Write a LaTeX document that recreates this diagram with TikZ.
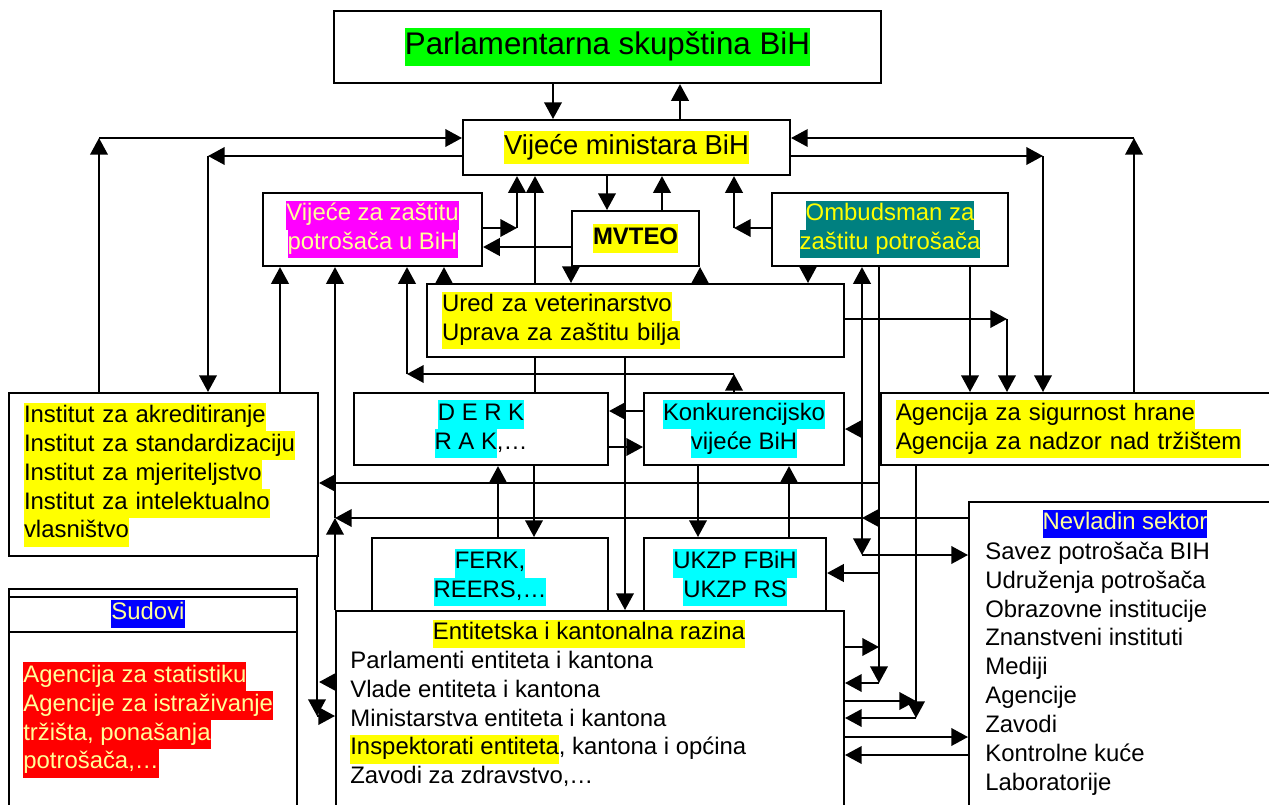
\documentclass[tikz,border=0pt]{standalone}
\usepackage{fontspec}
\setmainfont{Liberation Sans}
\usetikzlibrary{arrows.meta}

\definecolor{hlyellow}{HTML}{FFFF00}
\definecolor{hlgreen}{HTML}{00FF00}
\definecolor{hlmagenta}{HTML}{FF00FF}
\definecolor{hlteal}{HTML}{008080}
\definecolor{hlcyan}{HTML}{00FFFF}
\definecolor{hlblue}{HTML}{0000FF}
\definecolor{hlred}{HTML}{FF0000}
\definecolor{paleyellow}{HTML}{FFFF99}

% highlighted text: [text colour]{background}{text}
\newcommand{\marker}[3][black]{{\setlength{\fboxsep}{0pt}\colorbox{#2}{\color{#1}\strut #3}}}

\begin{document}
\begin{tikzpicture}[
		x=0.02cm, y=-0.02cm,
		% Define styles for nodes
		every node/.style={font=\fontsize{13.6}{16.4}\selectfont},
		box/.style={draw, line width=1.2pt, fill=white, rectangle, inner sep=0pt, anchor=north west},
		txt/.style={inner sep=0pt, align=left},
		arr/.style={draw, line width=1.1pt, -{Triangle[length=9.5pt,width=10pt]}},
		both/.style={arr, {Triangle[length=9.5pt,width=10pt]}-{Triangle[length=9.5pt,width=10pt]}},
		ln/.style={draw, line width=1.1pt}
	]
	\useasboundingbox (0,0) rectangle (1269,805);

	% State level
	\node[box, minimum width=10.94cm, minimum height=1.44cm] (parl) at (333,10)
		{\fontsize{17.8}{21.4}\selectfont\marker{hlgreen}{Parlamentarna skupština BiH}};
	\node[box, minimum width=6.54cm, minimum height=1.10cm] (vmin) at (462,119)
		{\fontsize{15.6}{18.7}\selectfont\marker{hlyellow}{Vijeće ministara BiH}};

	% Second row
	\node[box, minimum width=4.38cm, minimum height=1.46cm, align=center] (vzz) at (262,192)
		{\marker[paleyellow]{hlmagenta}{Vijeće za zaštitu}\\\marker[paleyellow]{hlmagenta}{potrošača u BiH}};
	\node[box, minimum width=2.54cm, minimum height=1.10cm] (mvteo) at (571,210)
		{\bfseries\marker{hlyellow}{MVTEO}};
	\node[box, minimum width=4.72cm, minimum height=1.46cm, align=center] (ombud) at (771,192)
		{\marker[hlyellow]{hlteal}{Ombudsman za}\\\marker[hlyellow]{hlteal}{zaštitu potrošača}};
	\node[box, minimum width=8.34cm, minimum height=1.46cm, text width=7.74cm, align=left] (ured) at (426,283)
		{\marker{hlyellow}{Ured za veterinarstvo}\\\marker{hlyellow}{Uprava za zaštitu bilja}};

	% Institutes, agencies, regulators
	\node[box, minimum width=6.18cm, minimum height=3.26cm, text width=5.58cm, align=left] (inst) at (8,392)
		{\marker{hlyellow}{Institut za akreditiranje}\\\marker{hlyellow}{Institut za standardizaciju}\\
		 \marker{hlyellow}{Institut za mjeriteljstvo}\\\marker{hlyellow}{Institut za intelektualno}\\
		 \marker{hlyellow}{vlasništvo}};
	\node[box, minimum width=5.08cm, minimum height=1.44cm, align=center] (derk) at (353,392)
		{\marker{hlcyan}{D E R K}\\\marker{hlcyan}{R A K},…};
	\node[box, minimum width=4.00cm, minimum height=1.44cm, align=center] (konk) at (643,392)
		{\marker{hlcyan}{Konkurencijsko}\\\marker{hlcyan}{vijeće BiH}};
	\node[box, minimum width=8.40cm, minimum height=1.44cm, text width=7.80cm, align=left] (agen) at (880,392)
		{\marker{hlyellow}{Agencija za sigurnost hrane}\\\marker{hlyellow}{Agencija za nadzor nad tržištem}};
	\node[box, minimum width=4.72cm, minimum height=1.58cm, align=center] (ferk) at (371,537)
		{\marker{hlcyan}{FERK,}\\\marker{hlcyan}{REERS,…}};
	\node[box, minimum width=3.64cm, minimum height=1.58cm, align=center] (ukzp) at (643,537)
		{\marker{hlcyan}{UKZP FBiH}\\\marker{hlcyan}{UKZP RS}};

	% Bottom row
	\node[box, minimum width=10.16cm, minimum height=4.20cm] (ent) at (335,610) {};
	\node[txt] (ent-title) at (589,634) {\marker{hlyellow}{Entitetska i kantonalna razina}};
	\node[txt, anchor=north west] (ent-list) at (350,648)
		{\strut Parlamenti entiteta i kantona\\\strut Vlade entiteta i kantona\\
		 \strut Ministarstva entiteta i kantona\\\marker{hlyellow}{Inspektorati entiteta}, kantona i općina\\
		 \strut Zavodi za zdravstvo,…};

	\node[box, minimum width=5.76cm, minimum height=4.80cm] (sud) at (8,588) {};
	\draw[line width=1.2pt] (sud.north west |- 0,597) -- (sud.north east |- 0,597);
	\draw[line width=1.2pt] (sud.north west |- 0,632) -- (sud.north east |- 0,632);
	\node[txt] (sud-title) at (148,614) {\marker[paleyellow]{hlblue}{Sudovi}};
	\node[txt, anchor=north west] (sud-list) at (23,662)
		{\marker[paleyellow]{hlred}{Agencija za statistiku}\\\marker[paleyellow]{hlred}{Agencije za istraživanje}\\
		 \marker[paleyellow]{hlred}{tržišta, ponašanja}\\\marker[paleyellow]{hlred}{potrošača,…}};

	\node[box, minimum width=6.64cm, minimum height=6.40cm] (nvo) at (968,501) {};
	\node[txt] (nvo-title) at (1125,524) {\marker[paleyellow]{hlblue}{Nevladin sektor}};
	\node[txt, anchor=north west] (nvo-list) at (985,539)
		{\strut Savez potrošača BIH\\\strut Udruženja potrošača\\\strut Obrazovne institucije\\
		 \strut Znanstveni instituti\\\strut Mediji\\\strut Agencije\\\strut Zavodi\\
		 \strut Kontrolne kuće\\\strut Laboratorije};

	% Corners of the elbow connectors
	\coordinate (cA) at (99,138);
	\coordinate (cB) at (208,156);
	\coordinate (cC) at (1134,138);
	\coordinate (cD) at (1043,156);
	\coordinate (cE) at (335,518);
	\coordinate (cF) at (862,518);
	\coordinate (cG) at (734,374);
	\coordinate (cH) at (407,374);
	\coordinate (cI) at (517,228);
	\coordinate (cJ) at (734,228);
	\coordinate (cK) at (1007,319);
	\coordinate (cL) at (862,555);
	\coordinate (cM) at (879,683);
	\coordinate (cN) at (916,718);
	\coordinate (cO) at (317,716);

	% Parlament <-> Vijece ministara
	\draw[arr] (parl.south -| 553,0) -- (vmin.north -| 553,0);
	\draw[arr] (vmin.north -| 680,0) -- (parl.south -| 680,0);

	% Vijece ministara <-> institutes and agencies
	\draw[arr] (inst.north -| cA) -- (cA);
	\draw[arr] (cA) -- (vmin.west |- cA);
	\draw[arr] (vmin.west |- cB) -- (cB);
	\draw[arr] (cB) -- (inst.north -| cB);
	\draw[arr] (agen.north -| cC) -- (cC);
	\draw[arr] (cC) -- (vmin.east |- cC);
	\draw[arr] (vmin.east |- cD) -- (cD);
	\draw[arr] (cD) -- (agen.north -| cD);

	% into Vijece za zastitu potrosaca
	\draw[arr] (inst.north -| 280,0) -- (vzz.south -| 280,0);
	\draw[arr] (ent.north west) -- (cE);
	\draw[arr] (cE) -- (vzz.south -| cE);
	\draw[arr] (nvo.west |- cF) -- (cF);
	\draw[arr] (cF) -- (cE);
	\draw[arr] (konk.north -| cG) -- (cG);
	\draw[arr] (cG) -- (cH);
	\draw[arr] (cH) -- (vzz.south -| cH);
	\draw[arr] (ured.north -| 444,0) -- (vzz.south -| 444,0);
	\draw[arr] (mvteo.west |- 0,247) -- (vzz.east |- 0,247);
	\draw[arr] (vzz.east |- cI) -- (cI);
	\draw[arr] (cI) -- (vmin.south -| cI);

	% Vijece ministara <-> MVTEO, Ured, Ombudsman
	\draw[arr] (vmin.south -| 607,0) -- (mvteo.north -| 607,0);
	\draw[arr] (mvteo.north -| 662,0) -- (vmin.south -| 662,0);
	\draw[ln] (derk.north -| 535,0) -- (ured.south -| 535,0);
	\draw[arr] (ured.north -| 535,0) -- (vmin.south -| 535,0);
	\draw[arr] (ombud.west |- cJ) -- (cJ);
	\draw[arr] (cJ) -- (vmin.south -| cJ);
	\draw[arr] (mvteo.south west) -- (ured.north -| mvteo.south west);
	\draw[arr] (ured.north -| mvteo.south east) -- (mvteo.south east);

	% Ombudsman
	\draw[arr] (ombud.south -| 808,0) -- (ured.north -| 808,0);
	\draw[arr] (ombud.south -| 970,0) -- (agen.north -| 970,0);
	\draw[arr] (ured.east |- cK) -- (cK);
	\draw[arr] (cK) -- (agen.north -| cK);
	\draw[both] (ombud.south -| cL) -- (cL);
	\draw[arr] (cL) -- (nvo.west |- cL);
	\draw[arr] (konk.east -| cL) -- (konk.east);
	\draw[arr] (ombud.south -| cM) -- (cM);
	\draw[arr] (cM) -- (ent.east |- cM);
	\draw[arr] (ent.east |- 0,647) -- (cM |- 0,647);
	\draw[arr] (cM |- 0,483) -- (inst.east |- 0,483);
	\draw[arr] (cM |- 0,573) -- (ukzp.east |- 0,573);

	% Agencije, Nevladin sektor <-> Entitetska razina
	\draw[arr] (agen.south -| cN) -- (cN);
	\draw[arr] (cN) -- (ent.east |- cN);
	\draw[arr] (ent.east |- 0,701) -- (cN |- 0,701);
	\draw[arr] (ent.east |- 0,737) -- (nvo.west |- 0,737);
	\draw[arr] (nvo.west |- 0,755) -- (ent.east |- 0,755);

	% Ured, regulators, Konkurencijsko vijece
	\draw[arr] (ured.south -| 625,0) -- (ent.north -| 625,0);
	\draw[arr] (konk.west |- 0,411) -- (derk.east |- 0,411);
	\draw[arr] (derk.east |- 0,447) -- (konk.west |- 0,447);
	\draw[arr] (ferk.north -| 498,0) -- (derk.south -| 498,0);
	\draw[arr] (derk.south -| 534,0) -- (ferk.north -| 534,0);
	\draw[arr] (konk.south -| 698,0) -- (ukzp.north -| 698,0);
	\draw[arr] (ukzp.north -| 789,0) -- (konk.south -| 789,0);

	% Institut <-> Entitetska razina
	\draw[arr] (cO |- inst.south) -- (cO);
	\draw[arr] (cO) -- (ent.west |- cO);
	\draw[arr] (ent.west |- 0,682) -- (inst.east |- 0,682);
\end{tikzpicture}
\end{document}
